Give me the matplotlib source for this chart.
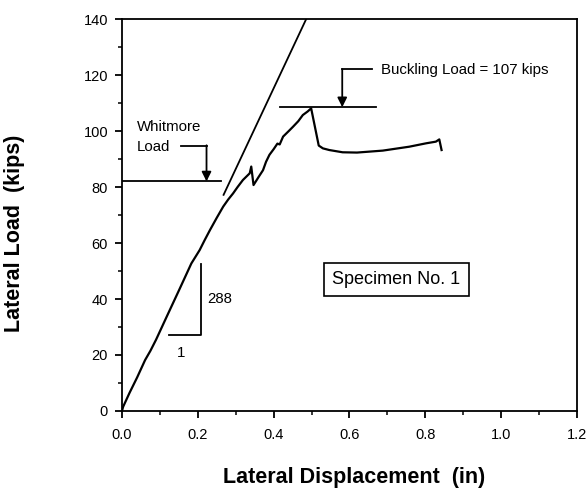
import matplotlib
matplotlib.use("Agg")
import matplotlib.pyplot as plt
from matplotlib.ticker import MultipleLocator

plt.rcParams['font.family'] = ['Liberation Sans', 'DejaVu Sans']

# Measured load-displacement curve
disp = [0.0, 0.003, 0.02, 0.04, 0.061, 0.075, 0.09, 0.118, 0.15, 0.183, 0.205,
        0.218, 0.232, 0.25, 0.267, 0.28, 0.293, 0.305, 0.319, 0.337, 0.341,
        0.347, 0.36, 0.372, 0.38, 0.389, 0.40, 0.41, 0.416, 0.425, 0.44,
        0.451, 0.465, 0.477, 0.49, 0.499, 0.519, 0.53, 0.547, 0.582, 0.62,
        0.688, 0.758, 0.802, 0.828, 0.837, 0.843]
load = [0.0, 1.5, 6.5, 12.0, 18.2, 21.5, 25.5, 33.7, 43.0, 52.7, 57.5,
        61.0, 64.6, 69.0, 73.0, 75.5, 77.7, 80.0, 82.5, 84.9, 87.3,
        80.7, 83.5, 86.0, 89.0, 91.5, 93.5, 95.5, 95.2, 98.0, 100.0,
        101.5, 103.5, 105.7, 107.0, 108.1, 94.8, 93.8, 93.2, 92.4, 92.3,
        93.0, 94.4, 95.6, 96.2, 97.0, 93.2]

# Elastic stiffness line (288 kips/in)
elastic_disp = [0.268, 0.486]
elastic_load = [77.2, 140.0]

whitmore_load = 82.0
buckling_load = 108.5

fig = plt.figure(figsize=(5.87, 4.95), dpi=100)
ax = fig.add_axes([0.2078, 0.1697, 0.775, 0.7919])

ax.plot(disp, load, color='black', lw=1.6)
ax.plot(elastic_disp, elastic_load, color='black', lw=1.3)

# slope triangle
ax.plot([0.124, 0.208, 0.208], [27.0, 27.0, 52.5], color='black', lw=1.3)
ax.text(0.224, 40.0, '288', fontsize=10.8, ha='left', va='center')
ax.text(0.155, 20.7, '1', fontsize=10.8, ha='center', va='center')

# Whitmore load
ax.plot([0.0, 0.262], [whitmore_load, whitmore_load], color='black', lw=1.3)
ax.plot([0.157, 0.223], [94.8, 94.8], color='black', lw=1.3)
ax.annotate('', xy=(0.223, whitmore_load), xytext=(0.223, 94.9),
            arrowprops=dict(arrowstyle='-|>', color='black', lw=1.3,
                            mutation_scale=14, shrinkA=0, shrinkB=0))
ax.text(0.039, 101.5, 'Whitmore', fontsize=10.8, ha='left', va='center')
ax.text(0.039, 94.4, 'Load', fontsize=10.8, ha='left', va='center')

# Buckling load
ax.plot([0.416, 0.670], [buckling_load, buckling_load], color='black', lw=1.3)
ax.plot([0.581, 0.66], [122.0, 122.0], color='black', lw=1.3)
ax.annotate('', xy=(0.581, buckling_load), xytext=(0.581, 122.1),
            arrowprops=dict(arrowstyle='-|>', color='black', lw=1.3,
                            mutation_scale=14, shrinkA=0, shrinkB=0))
ax.text(0.683, 121.9, 'Buckling Load = 107 kips', fontsize=10.8,
        ha='left', va='center')

# Specimen box
ax.text(0.724, 47.0, 'Specimen No. 1', fontsize=13, ha='center', va='center',
        bbox=dict(boxstyle='square,pad=0.45', fc='white', ec='black', lw=1.2))

ax.set_xlim(0.0, 1.2)
ax.set_ylim(0, 140)
ax.xaxis.set_major_locator(MultipleLocator(0.2))
ax.xaxis.set_minor_locator(MultipleLocator(0.1))
ax.yaxis.set_major_locator(MultipleLocator(20))
ax.yaxis.set_minor_locator(MultipleLocator(10))
ax.xaxis.set_major_formatter(plt.FuncFormatter(lambda v, p: f'{v:.1f}'))
ax.tick_params(which='major', direction='out', length=5, width=1.3,
               labelsize=10.5)
ax.tick_params(which='minor', direction='out', length=3, width=1.1)
ax.tick_params(axis='x', pad=7)
ax.tick_params(axis='y', pad=5)
for s in ax.spines.values():
    s.set_linewidth(1.3)

fig.text(354 / 587, 1 - 477 / 495, 'Lateral Displacement  (in)', fontsize=15.5,
         fontweight='bold', ha='center', va='center')
fig.text(15 / 587, 1 - 233 / 495, 'Lateral Load  (kips)', fontsize=15.5,
         fontweight='bold', ha='center', va='center', rotation=90)

fig.savefig('out.png', dpi=100)
